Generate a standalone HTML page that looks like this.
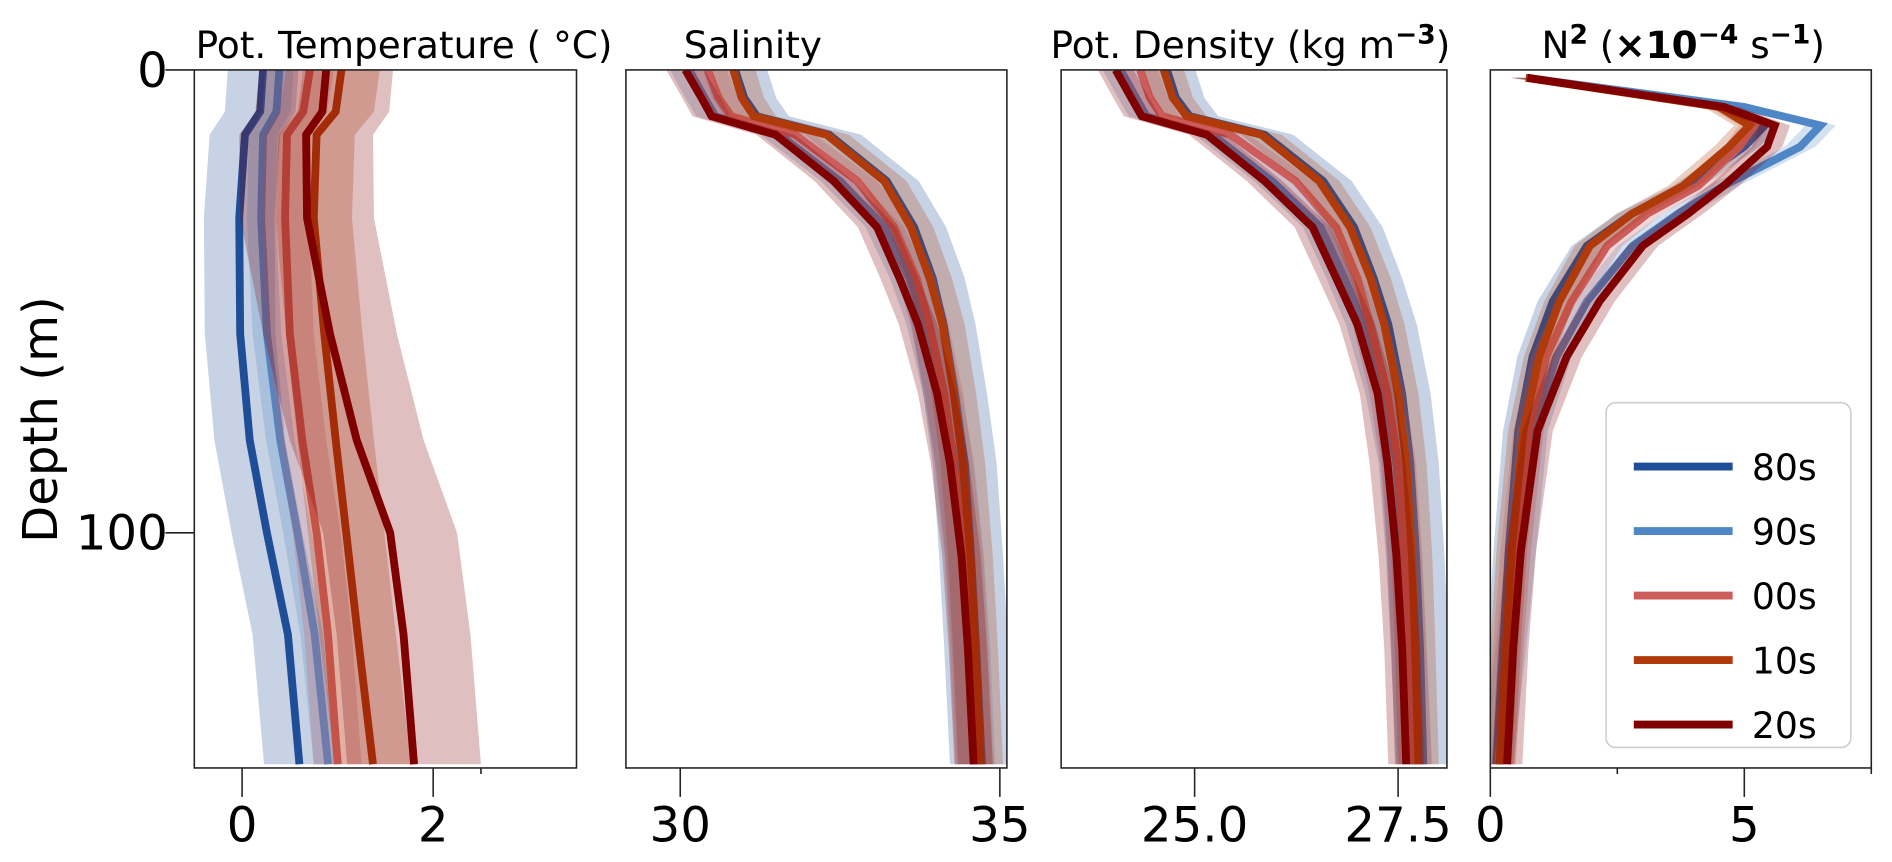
<!DOCTYPE html>
<html><head><meta charset="utf-8">
<style>
html,body{margin:0;padding:0;background:#fff;}
svg{display:block;font-family:"DejaVu Sans","Liberation Sans",sans-serif;}
</style></head>
<body>
<svg id="fig" width="1892" height="862" viewBox="0 0 1569 715" xmlns="http://www.w3.org/2000/svg">
<g id="layer"></g>
<text x="335" y="48" text-anchor="middle" font-size="31">Pot. Temperature ( °C)</text>
<text x="567" y="48" font-size="31">Salinity</text>
<text x="1037" y="48" text-anchor="middle" font-size="31">Pot. Density (kg m<tspan font-size="22" dy="-12" font-weight="bold">−3</tspan><tspan dy="12">)</tspan></text>
<text x="1396" y="48" text-anchor="middle" font-size="31">N<tspan font-size="22" dy="-12" font-weight="bold">2</tspan><tspan dy="12"> (</tspan><tspan font-weight="bold">×10</tspan><tspan font-size="22" dy="-12" font-weight="bold">−4</tspan><tspan dy="12"> s</tspan><tspan font-size="22" dy="-12" font-weight="bold">−1</tspan><tspan dy="12">)</tspan></text>
</svg>
<script>
const seriesNames = ["80s","90s","00s","10s","20s"];
const seriesColors = ["#1f4e99","#4f86c6","#cd5c5c","#b03a0a","#800000"];

const tempDepth = [0,9,14,32,57,80,100,122,150];
const temp80 = [0.22,0.19,0.03,-0.03,-0.02,0.08,0.26,0.48,0.6];
const temp90 = [0.39,0.36,0.22,0.2,0.26,0.4,0.58,0.76,0.9];
const temp00 = [0.71,0.64,0.47,0.45,0.5,0.63,0.78,0.9,1.0];
const temp10 = [1.04,0.98,0.78,0.75,0.86,0.98,1.09,1.21,1.37];
const temp20 = [0.88,0.84,0.67,0.68,0.92,1.2,1.55,1.69,1.8];
const tempStd = [0.37,0.15,0.25,0.4,0.7];

const sDepth = [0,6,10,14,24,34,45,55,70,85,105,125,150];
const sal80 = [30.86,31.0,31.2,32.33,33.23,33.66,33.95,34.12,34.3,34.45,34.55,34.63,34.72];
const sal90 = [30.14,30.38,30.55,31.55,32.5,33.2,33.58,33.84,34.1,34.3,34.45,34.55,34.63];
const sal00 = [30.43,30.6,30.8,31.8,32.77,33.35,33.7,33.9,34.13,34.28,34.44,34.52,34.6];
const sal10 = [30.83,30.96,31.15,32.29,33.19,33.61,33.9,34.1,34.28,34.42,34.54,34.62,34.7];
const sal20 = [30.08,30.33,30.49,31.49,32.4,33.08,33.43,33.72,34.02,34.22,34.4,34.5,34.59];
const salStd = [0.5,0.3,0.3,0.35,0.3];

const rho80 = [24.66,24.77,24.94,25.86,26.58,26.96,27.2,27.38,27.55,27.65,27.72,27.77,27.81];
const rho90 = [24.09,24.28,24.41,25.22,25.95,26.55,26.84,27.08,27.32,27.48,27.57,27.63,27.7];
const rho00 = [24.33,24.45,24.6,25.44,26.24,26.74,27.0,27.16,27.37,27.5,27.58,27.63,27.69];
const rho10 = [24.62,24.73,24.9,25.82,26.53,26.91,27.16,27.33,27.5,27.6,27.67,27.71,27.75];
const rho20 = [24.03,24.22,24.35,25.15,25.86,26.45,26.74,27.0,27.25,27.37,27.48,27.55,27.6];
const rhoStd = [0.35,0.22,0.22,0.25,0.22];

const nDepth = [1.7,8,12,16.6,25,31,38,50,62,78,104,125,150];
const n80 = [0.7,4.7,5.4,5.0,3.9,2.8,1.9,1.23,0.83,0.55,0.36,0.25,0.12];
const n90 = [0.7,5.0,6.5,6.1,4.6,3.7,2.8,1.9,1.3,0.83,0.6,0.4,0.15];
const n00 = [0.7,4.6,5.2,4.9,4.1,3.1,2.3,1.6,1.1,0.75,0.5,0.35,0.2];
const n10 = [0.7,4.5,5.1,4.7,3.8,2.8,1.96,1.36,0.96,0.65,0.42,0.3,0.18];
const n20 = [0.73,4.6,5.6,5.45,4.6,3.9,3.0,2.15,1.5,0.93,0.6,0.45,0.33];
const nStd = [0.3,0.3,0.3,0.3,0.3];

const yTicks = [0,100];
const tempTicks = ["0","2"];
const salTicks = ["30","35"];
const rhoTicks = ["25.0","27.5"];
const nTicks = ["0","5"];

const NS="http://www.w3.org/2000/svg";
const layer=document.getElementById('layer');
function mk(tag,attrs,parent){const e=document.createElementNS(NS,tag);for(const k in attrs)e.setAttribute(k,attrs[k]);(parent||layer).appendChild(e);return e;}

const Y0=58, Y1=637, DMAX=150.8;
function yScale(d){return Y0+(d/DMAX)*(Y1-Y0);}

const panels=[
 {name:"temperature",x0:161,x1:478,d0:-0.5,d1:3.5,depth:tempDepth,data:[temp80,temp90,temp00,temp10,temp20],std:tempStd,ticks:tempTicks,minor:[2.5]},
 {name:"salinity",x0:519,x1:835,d0:29.15,d1:35.11,depth:sDepth,data:[sal80,sal90,sal00,sal10,sal20],std:salStd,ticks:salTicks,minor:[]},
 {name:"density",x0:880,x1:1200,d0:23.36,d1:28.1,depth:sDepth,data:[rho80,rho90,rho00,rho10,rho20],std:rhoStd,ticks:rhoTicks,minor:[]},
 {name:"n-squared",x0:1236,x1:1552,d0:0,d1:7.5,depth:nDepth,data:[n80,n90,n00,n10,n20],std:nStd,ticks:nTicks,minor:[2.5,7.5]}
];

panels.forEach(p=>{
  const xs=v=>p.x0+(v-p.d0)/(p.d1-p.d0)*(p.x1-p.x0);
  const g=mk('g',{});
  
  
  const cid='clip-'+p.name;
  const cp=mk('clipPath',{id:cid},g);
  mk('rect',{x:p.x0,y:Y0,width:p.x1-p.x0,height:Y1-Y0},cp);
  const plot=mk('g',{'clip-path':'url(#'+cid+')'},g);
  p.data.forEach((arr,si)=>{
    const col=seriesColors[si];
    const sd=p.std[si];
    const left=arr.map((v,i)=>xs(v-sd)+','+yScale(p.depth[i]));
    const right=arr.map((v,i)=>xs(v+sd)+','+yScale(p.depth[i])).reverse();
    const band=mk('polygon',{points:left.concat(right).join(' '),fill:col,'fill-opacity':0.25,stroke:'none'},plot);
    
    
    const line=mk('polyline',{points:arr.map((v,i)=>xs(v)+','+yScale(p.depth[i])).join(' '),fill:'none',stroke:col,'stroke-width':6.5,'stroke-linejoin':'miter'},plot);
    
    
  });
  const frame=mk('rect',{x:p.x0,y:Y0,width:p.x1-p.x0,height:Y1-Y0,fill:'none',stroke:'#222','stroke-width':1.3},g);
  
  
  p.ticks.forEach(t=>{
    const x=xs(parseFloat(t));
    mk('line',{x1:x,x2:x,y1:Y1,y2:Y1+24,stroke:'#222','stroke-width':1.3},g);
    const tx=mk('text',{x:x,y:698,'text-anchor':'middle','font-size':40,fill:'#000'},g);
    tx.textContent=t;
    
    
  });
  p.minor.forEach(m=>{const x=xs(m);mk('line',{x1:x,x2:x,y1:Y1,y2:Y1+5,stroke:'#222','stroke-width':1.3},g);});
});

yTicks.forEach(d=>{
  const y=yScale(d);
  mk('line',{x1:137,x2:161,y1:y,y2:y,stroke:'#222','stroke-width':1.3});
  const t=mk('text',{x:139,y:y+14,'text-anchor':'end','font-size':40,fill:'#000'});
  t.textContent=String(d);
  
  
});
const yl=mk('text',{x:0,y:0,transform:'translate(47,348) rotate(-90)','text-anchor':'middle','font-size':40,fill:'#000'});
yl.textContent='Depth (m)';



const lg=mk('g',{});


mk('rect',{x:1332,y:334,width:203,height:286,rx:8,fill:'#fff','fill-opacity':0.85,stroke:'#ccc','stroke-width':1.3},lg);
seriesNames.forEach((n,i)=>{
  const y=387+i*53.5;
  const le=mk('g',{},lg);
  
  
  mk('line',{x1:1355,x2:1437,y1:y,y2:y,stroke:seriesColors[i],'stroke-width':6.5},le);
  const t=mk('text',{x:1453,y:y+11,'font-size':30,fill:'#000'},le);
  t.textContent=n;
});
</script>
</body></html>
